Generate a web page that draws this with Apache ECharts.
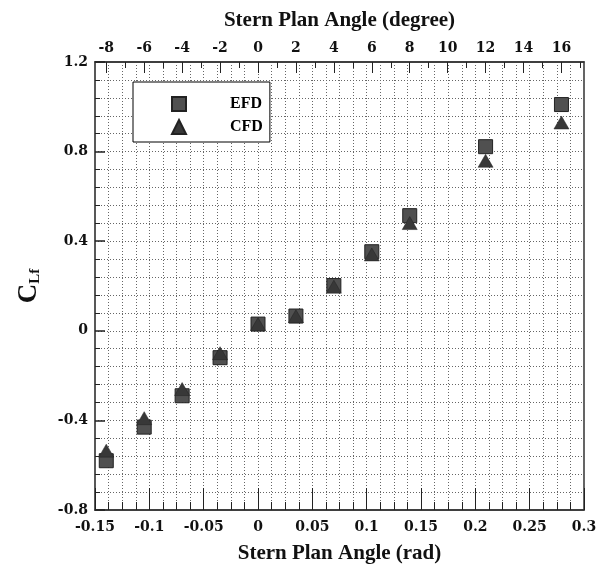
<!DOCTYPE html>
<html>
<head>
<meta charset="utf-8">
<script src="https://cdn.jsdelivr.net/npm/echarts@6/dist/echarts.min.js"></script>
<style>
  html, body { margin: 0; padding: 0; background: #fff; }
  #chart { width: 604px; height: 575px; }
</style>
</head>
<body>
<div id="chart"></div>
<script>
// stern plane angle of each run (degree)
const angleDeg = [-8, -6, -4, -2, 0, 2, 4, 6, 8, 12, 16]
// lift coefficient C_Lf
const efdValues = [-0.58, -0.43, -0.29, -0.12, 0.03, 0.066, 0.202, 0.353, 0.514, 0.822, 1.01]
const cfdValues = [-0.535, -0.39, -0.26, -0.10, 0.03, 0.065, 0.197, 0.341, 0.481, 0.759, 0.93]
// top axis tick labels (degree)
const topMajorDeg = [-8, -6, -4, -2, 0, 2, 4, 6, 8, 10, 12, 14, 16]
const topMinorDeg = [-7, -5, -3, -1, 1, 3, 5, 7, 9, 11, 13, 15, 17]

const toRad = d => d * Math.PI / 180
const serif = 'Liberation Serif'
const tickFont = 'DejaVu Serif'
const ink = '#222'
const gridDot = { color: '#666', width: 1, type: [1, 2] }

const efdData = angleDeg.map((d, i) => [toRad(d), efdValues[i]])
const cfdData = angleDeg.map((d, i) => [toRad(d), cfdValues[i]])

const myChart = echarts.init(document.getElementById('chart'), null, { renderer: 'canvas' })

const option = {
    animation: false,
    backgroundColor: '#fff',
    grid: {
        left: 95, right: 20, top: 62, bottom: 65,
        show: true, borderColor: '#333', borderWidth: 1.5, backgroundColor: 'transparent',
    },
    legend: {
        data: ['EFD', 'CFD'],
        orient: 'vertical',
        left: 133, top: 82,
        padding: [14, 7, 7, 38],
        itemGap: 7,
        itemWidth: 14, itemHeight: 14,
        backgroundColor: '#fff',
        borderColor: '#000', borderWidth: 1,
        selectedMode: false,
        textStyle: {
            fontFamily: serif, fontWeight: 'bold', fontSize: 16, color: '#000',
            padding: [0, 0, 0, 39], lineHeight: 14,
        },
    },
    xAxis: [
        {
            type: 'value', position: 'bottom',
            min: -0.15, max: 0.3, interval: 0.05,
            name: 'Stern Plan Angle (rad)', nameLocation: 'middle', nameGap: 33,
            nameTextStyle: { fontFamily: serif, fontWeight: 'bold', fontSize: 21, color: '#111' },
            axisLine: { show: true, onZero: false, lineStyle: { color: '#333', width: 1.5 } },
            axisTick: { show: true, inside: true, length: 22, lineStyle: { color: ink } },
            minorTick: { show: true, splitNumber: 4, length: 8, lineStyle: { color: ink } },
            axisLabel: { margin: 10, fontFamily: tickFont, fontWeight: 'bold', fontSize: 14, color: '#111' },
            splitLine: { show: true, lineStyle: gridDot },
            minorSplitLine: { show: true, lineStyle: gridDot },
        },
        {
            type: 'value', position: 'top',
            min: -0.15, max: 0.3,
            name: 'Stern Plan Angle (degree)', nameLocation: 'middle', nameGap: 31,
            nameTextStyle: { fontFamily: serif, fontWeight: 'bold', fontSize: 21, color: '#111' },
            axisLine: { show: true, onZero: false, lineStyle: { color: '#333', width: 1.5 } },
            axisTick: { show: true, inside: true, length: 11, customValues: topMajorDeg.map(toRad), lineStyle: { color: ink } },
            axisLabel: {
                margin: 7, customValues: topMajorDeg.map(toRad),
                formatter: v => String(Math.round(v * 180 / Math.PI)),
                fontFamily: tickFont, fontWeight: 'bold', fontSize: 14, color: '#111',
            },
            splitLine: { show: false },
        },
        {
            type: 'value', position: 'top',
            min: -0.15, max: 0.3,
            axisLine: { show: false, onZero: false },
            axisTick: { show: true, inside: true, length: 6, customValues: topMinorDeg.map(toRad), lineStyle: { color: ink } },
            axisLabel: { show: false },
            splitLine: { show: false },
        },
    ],
    yAxis: {
        type: 'value',
        min: -0.8, max: 1.2, interval: 0.4,
        name: '{c|C}{s|Lf}', nameLocation: 'middle', nameGap: 52, nameRotate: 90,
        nameTextStyle: {
            rich: {
                c: { fontFamily: serif, fontWeight: 'bold', fontSize: 27, color: '#111', lineHeight: 28 },
                s: { fontFamily: serif, fontWeight: 'bold', fontSize: 15, color: '#111', verticalAlign: 'bottom', lineHeight: 28, padding: [8, 0, 0, 0] },
            },
        },
        axisLine: { show: true, onZero: false, lineStyle: { color: '#555', width: 1.5 } },
        axisTick: { show: true, inside: true, length: 10, lineStyle: { color: ink, width: 1.5 } },
        minorTick: { show: true, splitNumber: 5, length: 5, lineStyle: { color: ink } },
        axisLabel: {
            margin: 7, fontFamily: tickFont, fontWeight: 'bold', fontSize: 14, color: '#111',
            formatter: v => String(Math.round(v * 10) / 10),
        },
        splitLine: { show: true, lineStyle: gridDot },
        minorSplitLine: { show: true, lineStyle: gridDot },
    },
    series: [
        {
            name: 'EFD', type: 'scatter', data: efdData,
            symbol: 'rect', symbolSize: 14, z: 3,
            itemStyle: { color: '#505050', borderColor: '#222', borderWidth: 1, opacity: 1 },
        },
        {
            name: 'CFD', type: 'scatter', data: cfdData,
            symbol: 'triangle', symbolSize: [15, 13], z: 4,
            itemStyle: { color: '#383838', borderColor: '#222', borderWidth: 0.5, opacity: 1 },
        },
    ],
}

myChart.setOption(option)
</script>
</body>
</html>
